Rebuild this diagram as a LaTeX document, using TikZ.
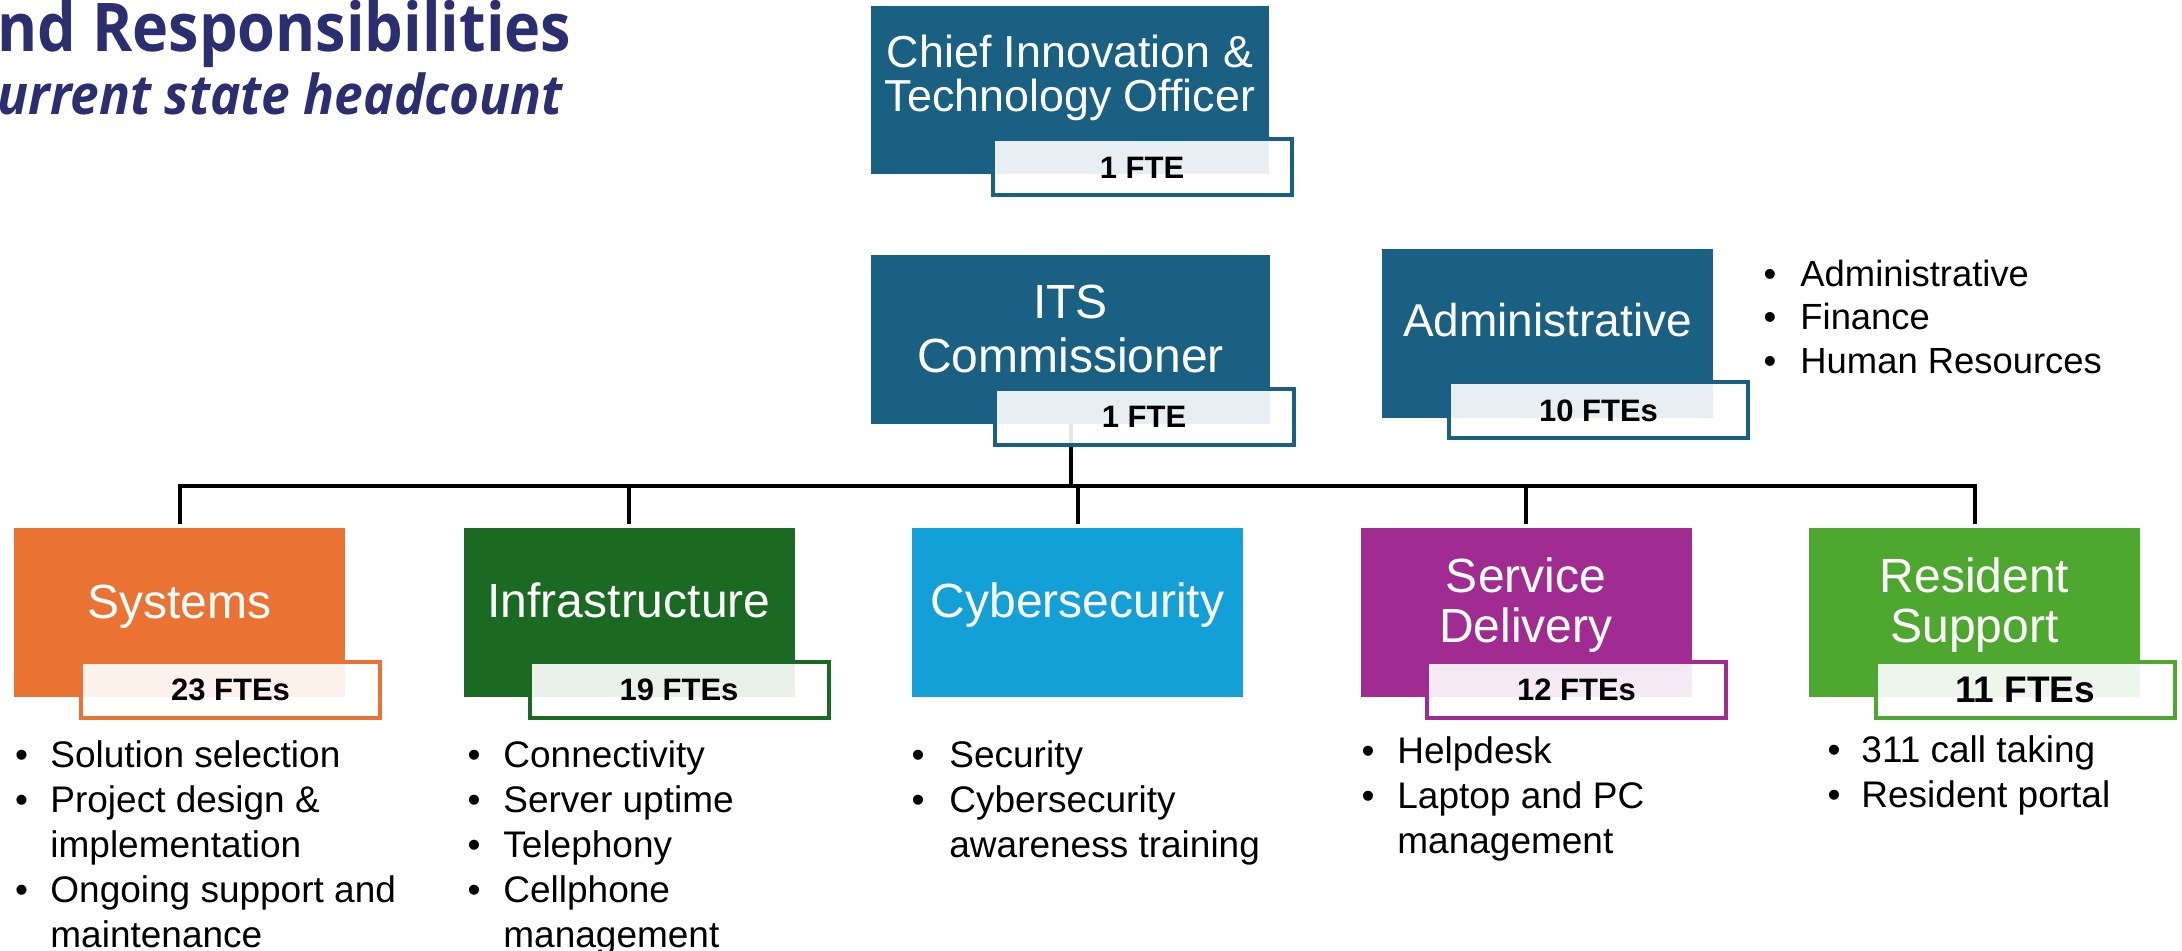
\documentclass[tikz,border=0pt]{standalone}
\usepackage{fontspec}
\setmainfont{Liberation Sans}
\newfontfamily\ttlfont{Open Sans}
\usetikzlibrary{calc}
\definecolor{cdark}{RGB}{26,96,130}
\definecolor{corange}{RGB}{234,114,51}
\definecolor{cdgreen}{RGB}{27,106,36}
\definecolor{ccyan}{RGB}{18,160,215}
\definecolor{cpurple}{RGB}{160,43,145}
\definecolor{clgreen}{RGB}{78,167,46}
\definecolor{cnavy}{RGB}{43,46,111}
\begin{document}
\begin{tikzpicture}[x=0.5pt,y=-0.5pt,
  box/.style={rectangle, inner sep=0pt, outer sep=0pt, minimum width=165.5pt, minimum height=84.5pt},
  fte/.style={rectangle, draw=#1, line width=2pt, fill=white, fill opacity=0.9, text opacity=1, inner sep=0pt, outer sep=0pt, minimum width=149.5pt, minimum height=28pt, font=\fontsize{15.5}{18}\selectfont\bfseries},
  ttl/.style={anchor=base, inner sep=0pt, text=white, font=\fontsize{24}{28}\selectfont},
  bul/.style={anchor=base, inner sep=0pt, font=\fontsize{18.5}{22}\selectfont},
  btx/.style={anchor=base west, inner sep=0pt, font=\fontsize{18.5}{22}\selectfont},
  abul/.style={anchor=base, inner sep=0pt, font=\fontsize{18.2}{22}\selectfont},
  abtx/.style={anchor=base west, inner sep=0pt, font=\fontsize{18.2}{22}\selectfont},
  conn/.style={draw=black, line width=2pt, line join=miter},
]
\useasboundingbox (0,0) rectangle (2182,951);
\coordinate (bus) at (0,486);

% title
\node[anchor=base west, inner sep=0pt, text=cnavy] (title) at (-3,52)
  {\scalebox{0.91}[1]{\ttlfont\bfseries\fontsize{33.6}{40}\selectfont nd Responsibilities}};
\node[anchor=base west, inner sep=0pt, text=cnavy] (subtitle) at (-3,115)
  {\scalebox{0.935}[1]{\ttlfont\bfseries\itshape\fontsize{27.5}{33}\selectfont urrent state headcount}};

% CITO
\node[box, fill=cdark, minimum width=199pt, minimum height=84pt] (cito) at (1070,90) {};
\node[ttl, font=\fontsize{22.4}{26}\selectfont] (citoa) at (1070,68) {Chief Innovation \&};
\node[ttl, font=\fontsize{22.4}{26}\selectfont] (citob) at (1070,112) {Technology Officer};
\node[fte=cdark] (citof) at ($(cito.center)+(72,77.5)$) {1 FTE};

% ITS Commissioner
\node[box, fill=cdark, minimum width=199.5pt] (its) at (1070.5,339.5) {};
\node[ttl] (itsa) at (1070.5,319) {ITS};
\node[ttl] (itsb) at (1070.5,373) {Commissioner};

% departments
\node[box, fill=corange] (sys) at (179.5,612.5) {};
\node[box, fill=cdgreen] (inf) at (629,612.5) {};
\node[box, fill=ccyan] (cyb) at (1077.5,612.5) {};
\node[box, fill=cpurple] (sd) at (1526,612.5) {};
\node[box, fill=clgreen] (rs) at (1974.5,612.5) {};

% connectors
\draw[conn] (its.south) -- (its.south |- bus);
\draw[conn] ([yshift=2pt]sys.north) |- (rs.north |- bus) -- ([yshift=2pt]rs.north);
\foreach \n in {inf,cyb,sd} \draw[conn] (\n.north |- bus) -- ([yshift=2pt]\n.north);

\node[fte=cdark] (itsf) at ($(its.center)+(73.5,77.5)$) {1 FTE};

% Administrative
\node[box, fill=cdark] (adm) at (1547.5,333.5) {};
\node[ttl, font=\fontsize{23}{27}\selectfont] (adma) at (1547.5,337) {Administrative};
\node[fte=cdark] (admf) at ($(adm.center)+(51,77)$) {10 FTEs};
\node[abul] (admb1) at (1770,286.7) {•};
\node[abtx] (admt1) at (1800,286.7) {Administrative};
\node[abul] (admb2) at (1770,330) {•};
\node[abtx] (admt2) at (1800,330) {Finance};
\node[abul] (admb3) at (1770,373.3) {•};
\node[abtx] (admt3) at (1800,373.3) {Human Resources};

% titles of departments
\node[ttl] (syst) at (179.5,618) {Systems};
\node[ttl] (inft) at (629,617) {Infrastructure};
\node[ttl] (cybt) at (1077.5,617) {Cybersecurity};
\node[ttl] (sdta) at (1526,592) {Service};
\node[ttl] (sdtb) at (1526,642) {Delivery};
\node[ttl] (rsta) at (1974.5,592) {Resident};
\node[ttl] (rstb) at (1974.5,642) {Support};

% FTE boxes
\node[fte=corange] (sysf) at ($(sys.center)+(51,77.5)$) {23 FTEs};
\node[fte=cdgreen] (inff) at ($(inf.center)+(50,77.5)$) {19 FTEs};
\node[fte=cpurple] (sdf) at ($(sd.center)+(50.5,77.5)$) {12 FTEs};
\node[fte=clgreen, font=\fontsize{18.5}{22}\selectfont\bfseries] (rsf) at ($(rs.center)+(50.5,77.5)$) {11 FTEs};

% bullet lists
\node[bul] (sysb1) at (21.5,767) {•};
\node[btx] (syst1) at (50,767) {Solution selection};
\node[bul] (sysb2) at (21.5,812) {•};
\node[btx] (syst2) at (50,812) {Project design \&};
\node[btx] (syst3) at (50,857) {implementation};
\node[bul] (sysb4) at (21.5,902) {•};
\node[btx] (syst4) at (50,902) {Ongoing support and};
\node[btx] (syst5) at (50,947) {maintenance};

\node[bul] (infb1) at (474,767) {•};
\node[btx] (inft1) at (503,767) {Connectivity};
\node[bul] (infb2) at (474,812) {•};
\node[btx] (inft2) at (503,812) {Server uptime};
\node[bul] (infb3) at (474,857) {•};
\node[btx] (inft3) at (503,857) {Telephony};
\node[bul] (infb4) at (474,902) {•};
\node[btx] (inft4) at (503,902) {Cellphone};
\node[btx] (inft5) at (503,947) {management};

\node[bul] (cybb1) at (918,767) {•};
\node[btx] (cybt1) at (949,767) {Security};
\node[bul] (cybb2) at (918,812) {•};
\node[btx] (cybt2) at (949,812) {Cybersecurity};
\node[btx] (cybt3) at (949,857) {awareness training};

\node[bul] (sdb1) at (1368,763) {•};
\node[btx] (sdt1) at (1397,763) {Helpdesk};
\node[bul] (sdb2) at (1368,808) {•};
\node[btx] (sdt2) at (1397,808) {Laptop and PC};
\node[btx] (sdt3) at (1397,853) {management};

\node[bul] (rsb1) at (1834,762) {•};
\node[btx] (rst1) at (1861,762) {311 call taking};
\node[bul] (rsb2) at (1834,807) {•};
\node[btx] (rst2) at (1861,807) {Resident portal};
\end{tikzpicture}
\end{document}
